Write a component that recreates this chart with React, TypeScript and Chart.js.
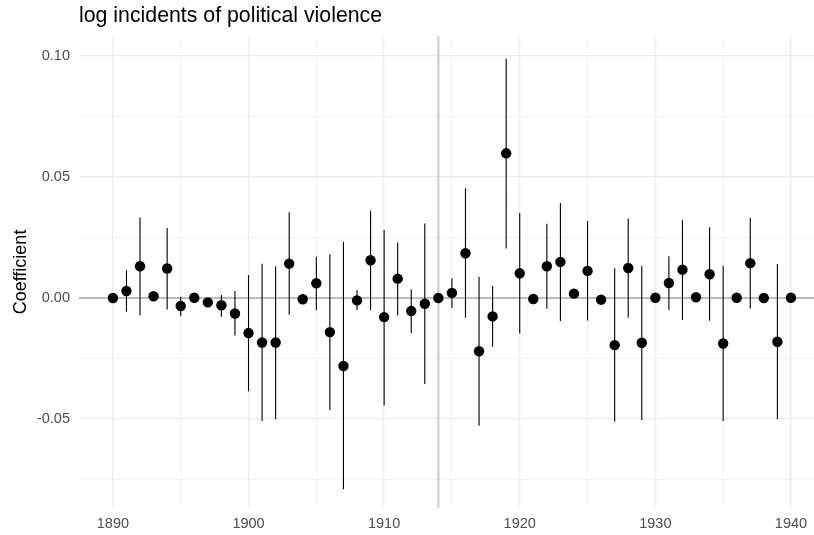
import React, { useEffect, useRef } from "react";
import { Chart, registerables } from "chart.js";

Chart.register(...registerables);

const TITLE = "log incidents of political violence";
const Y_TITLE = "Coefficient";

const years = [
  1890, 1891, 1892, 1893, 1894, 1895, 1896, 1897, 1898, 1899,
  1900, 1901, 1902, 1903, 1904, 1905, 1906, 1907, 1908, 1909,
  1910, 1911, 1912, 1913, 1914, 1915, 1916, 1917, 1918, 1919,
  1920, 1921, 1922, 1923, 1924, 1925, 1926, 1927, 1928, 1929,
  1930, 1931, 1932, 1933, 1934, 1935, 1936, 1937, 1938, 1939, 1940,
];

const coef = [
  0.0, 0.0029, 0.0131, 0.0007, 0.0122, -0.0033, 0.0001, -0.0018, -0.003, -0.0064,
  -0.0145, -0.0184, -0.0184, 0.0142, -0.0005, 0.0061, -0.0141, -0.0281, -0.001, 0.0156,
  -0.0079, 0.008, -0.0054, -0.0024, 0.0, 0.0021, 0.0185, -0.022, -0.0076, 0.0598,
  0.0102, -0.0004, 0.0131, 0.0149, 0.0018, 0.0112, -0.0007, -0.0195, 0.0124, -0.0185,
  0.0001, 0.0062, 0.0117, 0.0003, 0.0098, -0.0188, 0.0001, 0.0144, 0.0, -0.0181, 0.0001,
];

// null = no visible interval
const lower = [
  null, -0.0057, -0.0072, null, -0.0048, -0.0075, null, null, -0.0078, -0.0155,
  -0.0385, -0.0508, -0.0501, -0.0069, null, -0.0051, -0.0463, -0.0791, -0.0051, -0.0051,
  -0.0444, -0.0072, -0.0145, -0.0356, null, -0.0041, -0.0082, -0.0528, -0.0202, 0.0205,
  -0.0147, null, -0.0044, -0.0095, null, -0.0093, null, -0.0512, -0.0082, -0.0505,
  null, -0.005, -0.0091, null, -0.0094, -0.0508, null, -0.0043, null, -0.0501, null,
];

const upper = [
  null, 0.0115, 0.0333, null, 0.0289, 0.0005, null, null, 0.0012, 0.0029,
  0.0095, 0.0142, 0.0131, 0.0354, null, 0.017, 0.0181, 0.0232, 0.0033, 0.0361,
  0.0281, 0.0229, 0.0036, 0.0308, null, 0.0082, 0.0454, 0.0088, 0.005, 0.099,
  0.0351, null, 0.0307, 0.0393, null, 0.0318, null, 0.0123, 0.0329, 0.0133,
  null, 0.0173, 0.0322, null, 0.0292, 0.0133, null, 0.0331, null, 0.014, null,
];

const xTicks = [1890, 1895, 1900, 1905, 1910, 1915, 1920, 1925, 1930, 1935, 1940];
const xLabelled = [1890, 1900, 1910, 1920, 1930, 1940];
const yTicks = [-0.075, -0.05, -0.025, 0, 0.025, 0.05, 0.075, 0.1];
const yLabelled = [-0.05, 0, 0.05, 0.1];

const X_MIN = 1887.5;
const X_MAX = 1941.7;
const Y_MIN = -0.0868;
const Y_MAX = 0.1083;

const ZERO_LINE = 0;
const BREAK_YEAR = 1914;

const isLabelled = (list: number[], v: number) =>
  list.some((t) => Math.abs(t - v) < 1e-9);

const refLines = {
  id: "refLines",
  beforeDatasetsDraw(chart: any) {
    const { ctx, chartArea, scales } = chart;
    const y0 = scales.y.getPixelForValue(ZERO_LINE);
    const xb = scales.x.getPixelForValue(BREAK_YEAR);
    ctx.save();
    ctx.strokeStyle = "#bdbdbd";
    ctx.lineWidth = 1.8;
    ctx.beginPath();
    ctx.moveTo(chartArea.left, y0);
    ctx.lineTo(chartArea.right, y0);
    ctx.stroke();
    ctx.strokeStyle = "#c9c9c9";
    ctx.lineWidth = 2;
    ctx.beginPath();
    ctx.moveTo(xb, chartArea.top);
    ctx.lineTo(xb, chartArea.bottom);
    ctx.stroke();
    ctx.restore();
  },
};

export default function App() {
  const ref = useRef<HTMLCanvasElement | null>(null);

  useEffect(() => {
    if (!ref.current) return;
    const barData: any[] = [];
    years.forEach((yr, i) => {
      const lo = lower[i];
      const hi = upper[i];
      if (lo === null || hi === null) return;
      barData.push({ x: yr, y: lo }, { x: yr, y: hi }, { x: yr, y: null });
    });
    const pointData = years.map((yr, i) => ({ x: yr, y: coef[i] }));

    const chart = new Chart(ref.current, {
      type: "scatter",
      data: {
        datasets: [
          {
            data: barData,
            showLine: true,
            spanGaps: false,
            borderColor: "#000000",
            borderWidth: 1.1,
            pointRadius: 0,
            pointHoverRadius: 0,
            order: 2,
          } as any,
          {
            data: pointData,
            pointRadius: 5.2,
            pointHoverRadius: 5.2,
            backgroundColor: "#000000",
            borderWidth: 0,
            order: 1,
          } as any,
        ],
      },
      options: {
        animation: false,
        responsive: true,
        maintainAspectRatio: false,
        layout: { padding: 0, autoPadding: false },
        plugins: {
          legend: { display: false },
          tooltip: { enabled: false },
          title: {
            display: true,
            text: TITLE,
            align: "start",
            fullSize: false,
            color: "#000000",
            font: { family: "'Liberation Sans', Arial, sans-serif", size: 21.3, weight: "normal" },
            padding: { top: 3, bottom: 7.4 },
          },
        },
        scales: {
          x: {
            type: "linear",
            min: X_MIN,
            max: X_MAX,
            border: { display: false },
            afterBuildTicks: (scale: any) => {
              scale.ticks = xTicks.map((v) => ({ value: v }));
            },
            afterFit: (scale: any) => {
              scale.height = 27;
              scale.paddingLeft = 0;
              scale.paddingRight = 0;
            },
            grid: {
              drawTicks: false,
              color: (c: any) => (isLabelled(xLabelled, c.tick?.value) ? "#ebebeb" : "#f2f2f2"),
              lineWidth: (c: any) => (isLabelled(xLabelled, c.tick?.value) ? 1.3 : 0.9),
            },
            ticks: {
              autoSkip: false,
              maxRotation: 0,
              padding: 7,
              color: "#4d4d4d",
              font: { family: "'Liberation Sans', Arial, sans-serif", size: 14.5 },
              callback: (v: any) => (isLabelled(xLabelled, Number(v)) ? String(v) : ""),
            },
          },
          y: {
            type: "linear",
            min: Y_MIN,
            max: Y_MAX,
            border: { display: false },
            afterBuildTicks: (scale: any) => {
              scale.ticks = yTicks.map((v) => ({ value: v }));
            },
            afterFit: (scale: any) => {
              scale.width = 79;
              scale.paddingTop = 0;
              scale.paddingBottom = 0;
            },
            grid: {
              drawTicks: false,
              color: (c: any) => (isLabelled(yLabelled, c.tick?.value) ? "#ebebeb" : "#f2f2f2"),
              lineWidth: (c: any) => (isLabelled(yLabelled, c.tick?.value) ? 1.3 : 0.9),
            },
            title: {
              display: true,
              text: Y_TITLE,
              color: "#000000",
              font: { family: "'Liberation Sans', Arial, sans-serif", size: 18 },
              padding: { top: 10, bottom: 0 },
            },
            ticks: {
              autoSkip: false,
              padding: 9,
              color: "#4d4d4d",
              font: { family: "'Liberation Sans', Arial, sans-serif", size: 14.5 },
              callback: (v: any) =>
                isLabelled(yLabelled, Number(v)) ? Number(v).toFixed(2) : "",
            },
          },
        },
      },
      plugins: [refLines],
    });
    return () => chart.destroy();
  }, []);

  return (
    <div style={{ position: "absolute", left: 0, top: 0, width: 814, height: 535, background: "#ffffff" }}>
      <canvas ref={ref} />
    </div>
  );
}
